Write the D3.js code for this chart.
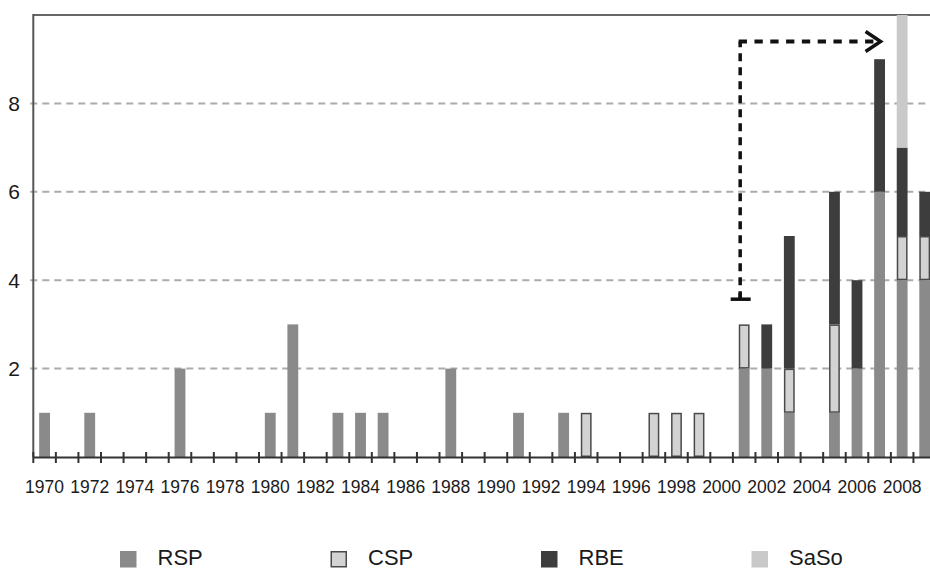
<!DOCTYPE html>
<html>
<head>
<meta charset="utf-8">
<script src="https://cdn.jsdelivr.net/npm/d3@7/dist/d3.min.js"></script>
<style>
  html, body { margin: 0; padding: 0; background: #fff; }
  svg { display: block; }
  text { font-family: "Liberation Sans", Arial, Helvetica, sans-serif; fill: #1a1a1a; }
</style>
</head>
<body>
<svg id="chart" width="930" height="570"></svg>
<script>
// ---- data ----
const years = [1970,1971,1972,1973,1974,1975,1976,1977,1978,1979,
               1980,1981,1982,1983,1984,1985,1986,1987,1988,1989,
               1990,1991,1992,1993,1994,1995,1996,1997,1998,1999,
               2000,2001,2002,2003,2004,2005,2006,2007,2008,2009];
const rsp  = [1,0,1,0,0,0,2,0,0,0, 1,3,0,1,1,1,0,0,2,0, 0,1,0,1,0,0,0,0,0,0, 0,2,2,1,0,1,2,6,4,4];
const csp  = [0,0,0,0,0,0,0,0,0,0, 0,0,0,0,0,0,0,0,0,0, 0,0,0,0,1,0,0,1,1,1, 0,1,0,1,0,2,0,0,1,1];
const rbe  = [0,0,0,0,0,0,0,0,0,0, 0,0,0,0,0,0,0,0,0,0, 0,0,0,0,0,0,0,0,0,0, 0,0,1,3,0,3,2,3,2,1];
const saso = [0,0,0,0,0,0,0,0,0,0, 0,0,0,0,0,0,0,0,0,0, 0,0,0,0,0,0,0,0,0,0, 0,0,0,0,0,0,0,0,3,0];
const seriesNames = ["RSP", "CSP", "RBE", "SaSo"];
const yTicks = [2, 4, 6, 8];
const xTickLabels = [1970,1972,1974,1976,1978,1980,1982,1984,1986,1988,1990,1992,1994,1996,1998,2000,2002,2004,2006,2008];
// annotation arrow: from year/value to year/value
const arrowFrom = { year: 2001, value: 3.57 };
const arrowTop  = 9.4;
const arrowTo   = { year: 2007 };

// ---- styles ----
const colors = { RSP: "#8a8a8a", CSP: "#d3d3d3", RBE: "#3d3d3d", SaSo: "#c9c9c9" };

(function () {
const svg = d3.select("#chart");
const pL = 33.3, pR = 936, pT = 15, pB = 457;

const x = d3.scaleBand().domain(years).range([pL, pR]).paddingInner(0.52).paddingOuter(0.26);
const y = d3.scaleLinear().domain([0, 10]).range([pB, pT]);

const rows = years.map((yr, i) => ({ year: yr, RSP: rsp[i], CSP: csp[i], RBE: rbe[i], SaSo: saso[i] }));
const stacked = d3.stack().keys(seriesNames)(rows);

// gridlines
svg.append("g").selectAll("line").data(yTicks).join("line")
  .attr("x1", pL - 3).attr("x2", 930)
  .attr("y1", d => y(d)).attr("y2", d => y(d))
  .attr("stroke", "#ababab").attr("stroke-width", 2).attr("stroke-dasharray", "7,5");

// y labels
svg.append("g").selectAll("text").data(yTicks).join("text")
  .attr("x", 20).attr("y", d => y(d) + 7.5)
  .attr("text-anchor", "end").attr("font-size", 21)
  .text(d => d);

// top border & left axis
svg.append("line").attr("x1", pL).attr("x2", 930).attr("y1", pT).attr("y2", pT)
  .attr("stroke", "#666").attr("stroke-width", 2);
svg.append("line").attr("x1", pL).attr("x2", pL).attr("y1", pT - 1).attr("y2", pB)
  .attr("stroke", "#555").attr("stroke-width", 2);

// bars
const g = svg.append("g");
stacked.forEach(layer => {
  const key = layer.key;
  const o = key === "CSP" ? 0.75 : 0;
  g.append("g").selectAll("rect").data(layer.filter(d => d[1] - d[0] > 0)).join("rect")
    .attr("x", d => x(d.data.year) + o)
    .attr("width", x.bandwidth() - 2 * o)
    .attr("y", d => y(d[1]) + o)
    .attr("height", d => y(d[0]) - y(d[1]) - 2 * o)
    .attr("fill", colors[key])
    .attr("stroke", key === "CSP" ? "#4a4a4a" : "none")
    .attr("stroke-width", key === "CSP" ? 1.5 : 0);
});

// baseline + ticks
svg.append("line").attr("x1", pL).attr("x2", 930).attr("y1", pB + 0.5).attr("y2", pB + 0.5)
  .attr("stroke", "#333").attr("stroke-width", 2);
const step = x.step();
const gap = (step - x.bandwidth()) / 2;
const tickPos = years.map(yr => x(yr) - gap).concat([x(years[years.length - 1]) + x.bandwidth() + gap]);
svg.append("g").selectAll("line").data(tickPos).join("line")
  .attr("x1", d => d).attr("x2", d => d)
  .attr("y1", pB - 5).attr("y2", pB + 6)
  .attr("stroke", "#333").attr("stroke-width", 2);

// x labels
svg.append("g").selectAll("text").data(xTickLabels).join("text")
  .attr("x", d => x(d) + x.bandwidth() / 2).attr("y", 493)
  .attr("text-anchor", "middle").attr("font-size", 17.5)
  .text(d => d);

// annotation arrow
const ax = x(arrowFrom.year) + x.bandwidth() / 2 - 4;
const ay0 = y(arrowFrom.value), ay1 = y(arrowTop);
const axEnd = x(arrowTo.year) + x.bandwidth() / 2 + 1;
const ann = svg.append("g").attr("stroke", "#111").attr("fill", "none");
ann.append("line").attr("x1", ax).attr("x2", ax).attr("y1", ay0).attr("y2", ay1)
  .attr("stroke-width", 3.5).attr("stroke-dasharray", "8,6");
ann.append("line").attr("x1", ax - 1.5).attr("x2", axEnd - 3).attr("y1", ay1).attr("y2", ay1)
  .attr("stroke-width", 4).attr("stroke-dasharray", "8.3,7.5");
ann.append("path").attr("d", `M${axEnd - 15},${ay1 - 10} L${axEnd},${ay1} L${axEnd - 15},${ay1 + 10}`)
  .attr("stroke-width", 3.5);
ann.append("line").attr("x1", ax - 9.5).attr("x2", ax + 10.5).attr("y1", ay0).attr("y2", ay0)
  .attr("stroke-width", 3.5);
ann.append("line").attr("x1", ax).attr("x2", ax).attr("y1", ay0).attr("y2", ay0 - 6)
  .attr("stroke-width", 3.5);

// legend
const legX = [120, 330.5, 541, 751.5];
const leg = svg.append("g").selectAll("g").data(seriesNames).join("g")
  .attr("transform", (d, i) => `translate(${legX[i]},551)`);
leg.append("rect")
  .attr("x", d => d === "CSP" ? 0.75 : 0).attr("y", d => d === "CSP" ? 0.75 : 0)
  .attr("width", d => d === "CSP" ? 15 : 16.5).attr("height", d => d === "CSP" ? 15 : 16.5)
  .attr("fill", d => colors[d])
  .attr("stroke", d => d === "CSP" ? "#4a4a4a" : "none").attr("stroke-width", 1.5);
leg.append("text").attr("x", 37.5).attr("y", 13.5).attr("font-size", 22).text(d => d);
})();
</script>
</body>
</html>
